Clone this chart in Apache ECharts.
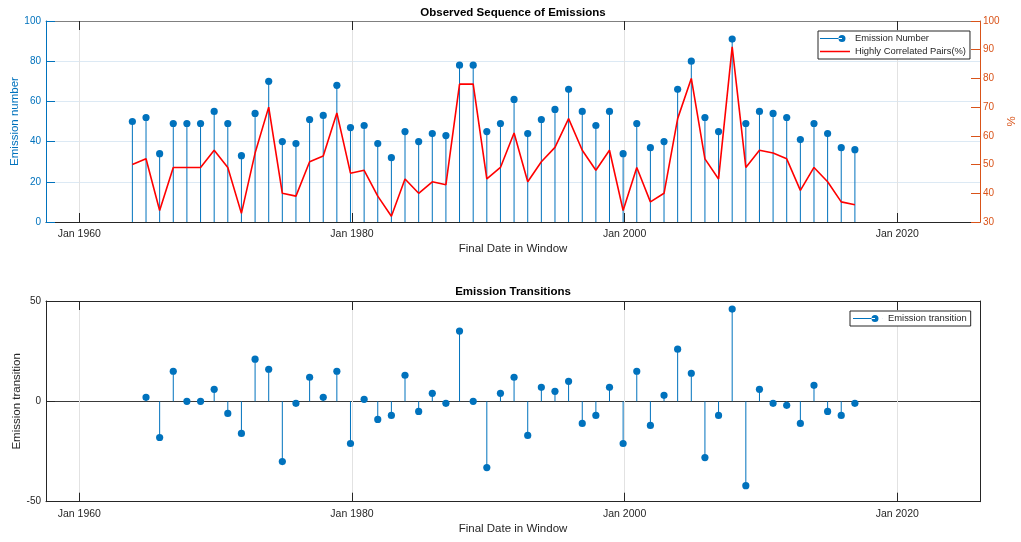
<!DOCTYPE html>
<html>
<head>
<meta charset="utf-8">
<script src="https://cdn.jsdelivr.net/npm/echarts@6/dist/echarts.min.js"></script>
<style>
html,body{margin:0;padding:0;background:#fff;}
#chart{width:1021px;height:542px;}
</style>
</head>
<body>
<div id="chart"></div>
<script>
// ---- data ----
const windowEndYears = [1963,1964,1965,1966,1967,1968,1969,1970,1971,1972,1973,1974,1975,1976,1977,1978,1979,1980,1981,1982,1983,1984,1985,1986,1987,1988,1989,1990,1991,1992,1993,1994,1995,1996,1997,1998,1999,2000,2001,2002,2003,2004,2005,2006,2007,2008,2009,2010,2011,2012,2013,2014,2015,2016];
const emissionNumbers = [50,52,34,49,49,49,55,49,33,54,70,40,39,51,53,68,47,48,39,32,45,40,44,43,78,78,45,49,61,44,51,56,66,55,48,55,34,49,37,40,66,80,52,45,91,49,55,54,52,41,49,44,37,36];
const correlatedPairsPct = [50,52,34,49,49,49,55,49,33,54,70,40,39,51,53,68,47,48,39,32,45,40,44,43,78,78,45,49,61,44,51,56,66,55,48,55,34,49,37,40,66,80,52,45,91,49,55,54,52,41,49,44,37,36];
const transitionYears = [1964,1965,1966,1967,1968,1969,1970,1971,1972,1973,1974,1975,1976,1977,1978,1979,1980,1981,1982,1983,1984,1985,1986,1987,1988,1989,1990,1991,1992,1993,1994,1995,1996,1997,1998,1999,2000,2001,2002,2003,2004,2005,2006,2007,2008,2009,2010,2011,2012,2013,2014,2015,2016];
const emissionTransitions = [2,-18,15,0,0,6,-6,-16,21,16,-30,-1,12,2,15,-21,1,-9,-7,13,-5,4,-1,35,0,-33,4,12,-17,7,5,10,-11,-7,7,-21,15,-12,3,26,14,-28,-7,46,-42,6,-1,-2,-11,8,-5,-7,-1];
const xTickYears = [1960,1980,2000,2020];
const leftTicks = {min:0,max:100,interval:20};
const rightTicks = {min:30,max:100,interval:10};
const transTicks = {min:-50,max:50,interval:50};

// ---- helpers ----
const dateOf = y => new Date(y, 10, 22).getTime();   // final date of each yearly window
const xMin = new Date(1957, 6, 22).getTime();
const xMax = new Date(2026, 0, 26).getTime();
const xTickValues = xTickYears.map(y => new Date(y, 0, 1).getTime());

const FONT = "'Liberation Sans', Helvetica, Arial, sans-serif";
const BLUE = '#0072BD', ORANGE = '#D95319', DARK = '#262626';

const emissionData = windowEndYears.map((y, i) => [dateOf(y), emissionNumbers[i]]);
const pctData = windowEndYears.map((y, i) => [dateOf(y), correlatedPairsPct[i]]);
const transData = transitionYears.map((y, i) => [dateOf(y), emissionTransitions[i]]);

function stemRender(params, api) {
  const x = api.value(0), v = api.value(1);
  const base = api.coord([x, 0]);
  const tip = api.coord([x, v]);
  return {
    type: 'group',
    children: [
      {type: 'line', shape: {x1: base[0], y1: base[1], x2: tip[0], y2: tip[1]},
       style: {stroke: BLUE, lineWidth: 1}},
      {type: 'circle', shape: {cx: tip[0], cy: tip[1], r: 3.6},
       style: {fill: BLUE, stroke: null}}
    ]
  };
}

function xAxisBottom(gridIndex) {
  return {
    type: 'value', gridIndex, position: 'bottom', min: xMin, max: xMax, scale: true,
    axisLine: {show: true, onZero: false, lineStyle: {color: DARK, width: 1}},
    axisTick: {show: true, inside: true, length: 9, customValues: xTickValues, lineStyle: {color: DARK}},
    axisLabel: {show: true, customValues: xTickValues, margin: 7, fontSize: 10.5, color: DARK, fontFamily: FONT,
      formatter: v => 'Jan ' + new Date(v).getFullYear()},
    splitLine: {show: true, lineStyle: {color: '#e2e2e2', width: 1}},
    name: 'Final Date in Window', nameLocation: 'middle', nameGap: 21, nameMoveOverlap: false,
    nameTextStyle: {fontSize: 11.5, color: DARK, fontFamily: FONT}
  };
}
function xAxisTop(gridIndex, color) {
  return {
    type: 'value', gridIndex, position: 'top', min: xMin, max: xMax, scale: true,
    axisLine: {show: true, onZero: false, lineStyle: {color: color, width: 1}},
    axisTick: {show: true, inside: true, length: 9, customValues: xTickValues, lineStyle: {color: DARK}},
    axisLabel: {show: false},
    splitLine: {show: false}
  };
}

const iconTop = 'path://M0,3h22v1h-22z M18.5,3.5a3.5,3.5 0 1,0 7,0a3.5,3.5 0 1,0 -7,0z M29.9,3h0.1v1h-0.1z';
const iconRed = 'path://M0,0h0.01v0.01h-0.01z M0,2.75h30v1.5h-30z M29.99,6.99h0.01v0.01h-0.01z';
const iconBottom = 'path://M0,3h22v1h-22z M18.5,3.5a3.5,3.5 0 1,0 7,0a3.5,3.5 0 1,0 -7,0z M29.9,3h0.1v1h-0.1z';

const option = {
  animation: false,
  backgroundColor: '#fff',
  textStyle: {fontFamily: FONT},
  title: [
    {text: 'Observed Sequence of Emissions', left: 513, top: 7, textAlign: 'center', padding: 0,
     textStyle: {fontSize: 11.5, fontWeight: 'bold', color: '#000', fontFamily: FONT}},
    {text: 'Emission Transitions', left: 513, top: 286, textAlign: 'center', padding: 0,
     textStyle: {fontSize: 11.5, fontWeight: 'bold', color: '#000', fontFamily: FONT}}
  ],
  grid: [
    {left: 46, top: 21, width: 934, height: 201, containLabel: false, outerBoundsMode: 'none'},
    {left: 46, top: 301, width: 934, height: 200.7, containLabel: false, outerBoundsMode: 'none'}
  ],
  xAxis: [xAxisBottom(0), xAxisTop(0, '#808080'), xAxisBottom(1), xAxisTop(1, DARK)],
  yAxis: [
    {type: 'value', gridIndex: 0, position: 'left', ...leftTicks,
     axisLine: {show: true, onZero: false, lineStyle: {color: BLUE}},
     axisTick: {show: true, inside: true, length: 9, lineStyle: {color: BLUE}},
     axisLabel: {margin: 5, fontSize: 10, color: BLUE, fontFamily: FONT},
     splitLine: {show: true, lineStyle: {color: '#dce9f4'}},
     name: 'Emission number', nameLocation: 'middle', nameGap: 25, nameMoveOverlap: false,
     nameTextStyle: {fontSize: 11.5, color: BLUE, fontFamily: FONT}},
    {type: 'value', gridIndex: 0, position: 'right', ...rightTicks,
     axisLine: {show: true, onZero: false, lineStyle: {color: ORANGE}},
     axisTick: {show: true, inside: true, length: 9, lineStyle: {color: ORANGE}},
     axisLabel: {margin: 3, fontSize: 10, color: ORANGE, fontFamily: FONT},
     splitLine: {show: false},
     name: '%', nameLocation: 'middle', nameGap: 26, nameMoveOverlap: false,
     nameTextStyle: {fontSize: 11.5, color: ORANGE, fontFamily: FONT}},
    {type: 'value', gridIndex: 1, position: 'left', ...transTicks,
     axisLine: {show: true, onZero: false, lineStyle: {color: DARK}},
     axisTick: {show: true, inside: true, length: 9, lineStyle: {color: DARK}},
     axisLabel: {margin: 5, fontSize: 10, color: DARK, fontFamily: FONT},
     splitLine: {show: true, lineStyle: {color: '#3a3a3a', width: 1}},
     name: 'Emission transition', nameLocation: 'middle', nameGap: 23, nameMoveOverlap: false,
     nameTextStyle: {fontSize: 11.5, color: DARK, fontFamily: FONT}},
    {type: 'value', gridIndex: 1, position: 'right', ...transTicks,
     axisLine: {show: true, onZero: false, lineStyle: {color: DARK}},
     axisTick: {show: true, inside: true, length: 9, lineStyle: {color: DARK}},
     axisLabel: {show: false},
     splitLine: {show: false}}
  ],
  legend: [
    {orient: 'vertical', left: 818, top: 31, padding: [3, 4, 3, 2], itemGap: 4,
     itemWidth: 30, itemHeight: 7, borderColor: DARK, borderWidth: 1, backgroundColor: '#fff',
     textStyle: {fontSize: 9.4, color: DARK, fontFamily: FONT}, selectedMode: false,
     data: [{name: 'Emission Number', icon: iconTop}, {name: 'Highly Correlated Pairs(%)', icon: iconRed}]},
    {orient: 'vertical', left: 850, top: 311, padding: [3, 4, 3, 3],
     itemWidth: 30, itemHeight: 7, borderColor: DARK, borderWidth: 1, backgroundColor: '#fff',
     textStyle: {fontSize: 9.4, color: DARK, fontFamily: FONT}, selectedMode: false,
     data: [{name: 'Emission transition', icon: iconBottom}]}
  ],
  series: [
    {name: 'Emission Number', type: 'custom', xAxisIndex: 0, yAxisIndex: 0,
     itemStyle: {color: BLUE}, renderItem: stemRender, encode: {x: 0, y: 1}, data: emissionData, z: 3},
    {name: 'Highly Correlated Pairs(%)', type: 'line', xAxisIndex: 0, yAxisIndex: 1,
     symbol: 'none', showSymbol: false, color: '#FF0000', itemStyle: {color: '#FF0000'},
     lineStyle: {color: '#FF0000', width: 1.6}, data: pctData, z: 4},
    {name: 'Emission transition', type: 'custom', xAxisIndex: 2, yAxisIndex: 2,
     itemStyle: {color: BLUE}, renderItem: stemRender, encode: {x: 0, y: 1}, data: transData, z: 3}
  ]
};

const chart = echarts.init(document.getElementById('chart'), null, {renderer: 'canvas'});
chart.setOption(option);
</script>
</body>
</html>
